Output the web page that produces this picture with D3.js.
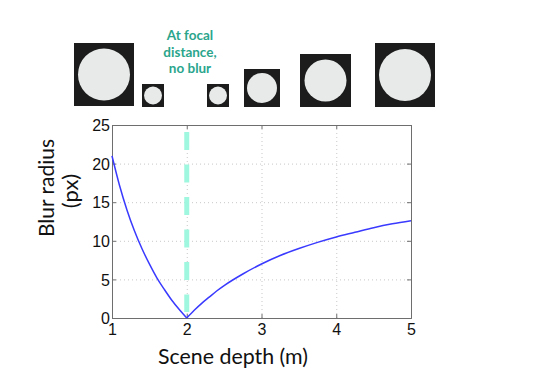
<!DOCTYPE html>
<html><head><meta charset="utf-8">
<script src="https://cdn.jsdelivr.net/npm/d3@7"></script>
<style>body{margin:0;background:#fff}svg{display:block}</style>
</head><body>
<svg id="c" width="543" height="384"></svg>
<script>
// Data
const depths = [1.0,1.1,1.2,1.3,1.4,1.5,1.6,1.7,1.8,1.9,2.0,2.1,2.2,2.3,2.4,2.5,2.75,3.0,3.25,3.5,3.75,4.0,4.25,4.5,4.75,5.0];
const blurRadius = [21,17.2,14,11.3,9,7,5.2,3.7,2.3,1.1,0,1.0,1.9,2.7,3.5,4.2,5.7,7,8.1,9,9.8,10.5,11.1,11.7,12.2,12.6];
const focalDepth = 2;
const xTicks = [1,2,3,4,5];
const yTicks = [0,5,10,15,20,25];
const noteLines = ["At focal","distance,","no blur"];
// illustration thumbnails (blur examples)
const thumbs = [
  {x:74, y:43, w:60, h:63, r:26},
  {x:142,y:84, w:22, h:23, r:9},
  {x:207,y:84, w:22, h:23, r:9},
  {x:244,y:69, w:36, h:38, r:15},
  {x:300,y:54, w:51, h:53, r:21},
  {x:375,y:43, w:60, h:64, r:26}
];

const svg = d3.select("#c");
const m = {l:112, r:411, t:125, b:318};
const x = d3.scaleLinear().domain([1,5]).range([m.l,m.r]);
const y = d3.scaleLinear().domain([0,25]).range([m.b,m.t]);

// thumbnails
const tg = svg.append("g");
thumbs.forEach(t=>{
  tg.append("rect").attr("x",t.x).attr("y",t.y).attr("width",t.w).attr("height",t.h).attr("fill","#1c1c1c");
  tg.append("circle").attr("cx",t.x+t.w/2).attr("cy",t.y+t.h/2).attr("r",t.r).attr("fill","#e8eaea");
});
svg.append("text").attr("x",190).attr("y",40).attr("text-anchor","middle")
  .attr("font-family","Lato").attr("font-weight","bold").attr("font-size",13.5).attr("fill","#2aa58c")
  .selectAll("tspan").data(noteLines).join("tspan").attr("x",190).attr("dy",(d,i)=>i?16.5:0).text(d=>d);

// grid
const grid = svg.append("g").attr("stroke","#c8c8c8").attr("stroke-width",1).attr("stroke-dasharray","1,3");
grid.selectAll(".gy").data(yTicks.filter(v=>v>0&&v<25)).join("line")
  .attr("x1",m.l).attr("x2",m.r).attr("y1",d=>y(d)+0.5).attr("y2",d=>y(d)+0.5);
grid.selectAll(".gx").data(xTicks.filter(v=>v>1&&v<5)).join("line")
  .attr("y1",m.t).attr("y2",m.b).attr("x1",d=>x(d)+0.5).attr("x2",d=>x(d)+0.5);

// axes
const font = "Liberation Sans, Arial, sans-serif";
const xa = svg.append("g").attr("transform",`translate(0,${m.b})`)
  .call(d3.axisBottom(x).tickValues(xTicks).tickSize(-4).tickPadding(8).tickFormat(d3.format("d")));
const ya = svg.append("g").attr("transform",`translate(${m.l},0)`)
  .call(d3.axisLeft(y).tickValues(yTicks).tickSize(-4).tickPadding(2).tickFormat(d3.format("d")));
const xt = svg.append("g").attr("transform",`translate(0,${m.t})`)
  .call(d3.axisTop(x).tickValues(xTicks).tickSize(-4).tickFormat(""));
const yr = svg.append("g").attr("transform",`translate(${m.r},0)`)
  .call(d3.axisRight(y).tickValues(yTicks).tickSize(-4).tickFormat(""));
[xa,ya,xt,yr].forEach(g=>{
  g.select(".domain").attr("stroke","#6e6e6e");
  g.selectAll(".tick line").attr("stroke","#6e6e6e");
  g.selectAll("text").attr("font-family",font).attr("font-size",16).attr("fill","#111");
});
xa.selectAll("text").attr("dy","0.55em");
ya.selectAll("text").attr("dy","0.36em");

// focal line
svg.append("line").attr("x1",x(focalDepth)).attr("x2",x(focalDepth)).attr("y1",y(25)+7).attr("y2",y(0)-6)
  .attr("stroke","#9ef7de").attr("stroke-width",5).attr("stroke-dasharray","18,14.5");

// curve: two branches either side of the focal depth
const pts = depths.map((d,i)=>[d,blurRadius[i]]);
const line = d3.line().x(d=>x(d[0])).y(d=>y(d[1])).curve(d3.curveMonotoneX);
[pts.filter(p=>p[0]<=focalDepth), pts.filter(p=>p[0]>=focalDepth)].forEach(seg=>{
  svg.append("path").datum(seg).attr("fill","none").attr("stroke","#3a3aff").attr("stroke-width",1.5).attr("d",line);
});

// labels
svg.append("text").attr("x",158).attr("y",364)
  .attr("font-family","Lato").attr("font-size",22).attr("fill","#111")
  .attr("textLength",150).attr("lengthAdjust","spacingAndGlyphs").text("Scene depth (m)");
const yl = svg.append("g").attr("transform","translate(54,188) rotate(-90)")
  .attr("font-family","Lato").attr("font-size",22).attr("fill","#111");
yl.append("text").attr("x",-49).attr("y",0).attr("textLength",98).attr("lengthAdjust","spacingAndGlyphs").text("Blur radius");
yl.append("text").attr("x",-3).attr("y",24).attr("text-anchor","middle").text("(px)");
</script>
</body></html>
